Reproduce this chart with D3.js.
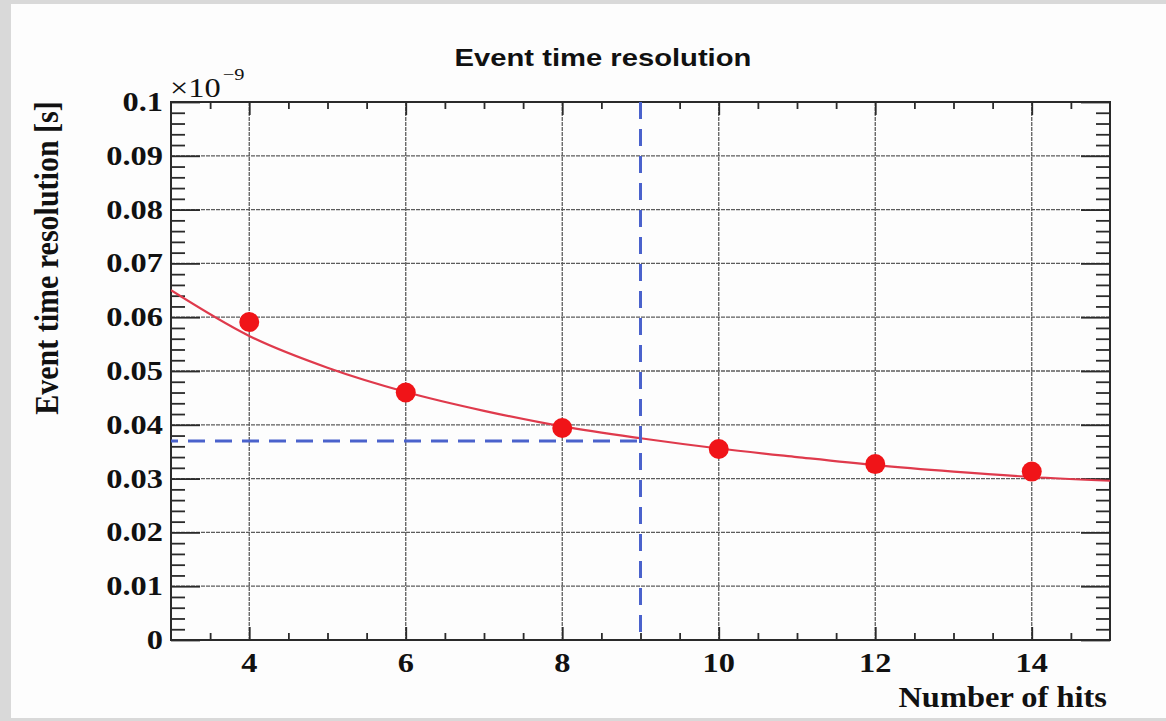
<!DOCTYPE html>
<html>
<head>
<meta charset="utf-8">
<script src="https://cdn.jsdelivr.net/npm/d3@7"></script>
<style>
html,body{margin:0;padding:0;background:#d9d9d9;}
svg{display:block;}
</style>
</head>
<body>
<svg id="chart" width="1166" height="721"></svg>
<script>
// measured event time resolution per number of hits (units of 1e-9 s)
var hits=[4,6,8,10,12,14];
var resolution=[0.0591,0.0460,0.0394,0.0355,0.0327,0.0313];

// fitted curve, sampled at each integer hit count
var fitHits=[3,4,5,6,7,8,9,10,11,12,13,14,15];
var fitRes=[0.0650,0.0565,0.0506,0.0461,0.0426,0.0397,0.0375,0.0356,0.0340,0.0325,0.0313,0.0303,0.0296];

// working point shown by the dashed guides
var markHits=9;
var markRes=0.037;

// axis ticks
var xTicks=[4,6,8,10,12,14];
var xTickLabels=["4","6","8","10","12","14"];
var yTicks=[0,0.01,0.02,0.03,0.04,0.05,0.06,0.07,0.08,0.09,0.1];
var yTickLabels=["0","0.01","0.02","0.03","0.04","0.05","0.06","0.07","0.08","0.09","0.1"];

var svg=d3.select("#chart");

// white canvas inside the grey border
svg.append("rect")
    .attr("x",11).attr("y",4)
    .attr("width",1155).attr("height",714)
    .attr("fill","#fdfdfd");

var frame={left:171, right:1110, top:102, bottom:640};

var xScale=d3.scaleLinear().domain([3,15]).range([frame.left,frame.right]);
var yScale=d3.scaleLinear().domain([0,0.1]).range([frame.bottom,frame.top]);

// grid
var grid=svg.append("g")
    .attr("stroke","#5c5c5c")
    .attr("stroke-width",1.3)
    .attr("stroke-dasharray","4,1");

grid.selectAll(".vgrid")
    .data(xTicks)
    .enter()
    .append("line")
    .attr("x1",d=>xScale(d)).attr("x2",d=>xScale(d))
    .attr("y1",frame.top).attr("y2",frame.bottom);

grid.selectAll(".hgrid")
    .data(yTicks.filter(d=>d>0 && d<0.1))
    .enter()
    .append("line")
    .attr("x1",frame.left).attr("x2",frame.right)
    .attr("y1",d=>yScale(d)).attr("y2",d=>yScale(d));

// tick marks on all four sides, pointing inward
var xMinor=d3.range(7,30).map(i=>i/2).filter(v=>xTicks.indexOf(v)<0);
var yMinor=d3.range(1,50).filter(i=>i%5!==0).map(i=>i/500);

function noDomain(g){
    g.select(".domain").remove();
    g.selectAll(".tick line").attr("stroke","#2a2a2a").attr("stroke-width",1.8);
}

svg.append("g").attr("transform","translate(0,"+frame.bottom+")")
    .call(d3.axisBottom(xScale).tickValues(xTicks).tickSize(-13).tickFormat("")).call(noDomain);
svg.append("g").attr("transform","translate(0,"+frame.bottom+")")
    .call(d3.axisBottom(xScale).tickValues(xMinor).tickSize(-7).tickFormat("")).call(noDomain);
svg.append("g").attr("transform","translate(0,"+frame.top+")")
    .call(d3.axisTop(xScale).tickValues(xTicks).tickSize(-13).tickFormat("")).call(noDomain);
svg.append("g").attr("transform","translate(0,"+frame.top+")")
    .call(d3.axisTop(xScale).tickValues(xMinor).tickSize(-7).tickFormat("")).call(noDomain);

svg.append("g").attr("transform","translate("+frame.left+",0)")
    .call(d3.axisLeft(yScale).tickValues(yTicks).tickSize(-29).tickFormat("")).call(noDomain);
svg.append("g").attr("transform","translate("+frame.left+",0)")
    .call(d3.axisLeft(yScale).tickValues(yMinor).tickSize(-14).tickFormat("")).call(noDomain);
svg.append("g").attr("transform","translate("+frame.right+",0)")
    .call(d3.axisRight(yScale).tickValues(yTicks).tickSize(-29).tickFormat("")).call(noDomain);
svg.append("g").attr("transform","translate("+frame.right+",0)")
    .call(d3.axisRight(yScale).tickValues(yMinor).tickSize(-14).tickFormat("")).call(noDomain);

// frame
svg.append("rect")
    .attr("x",frame.left).attr("y",frame.top)
    .attr("width",frame.right-frame.left).attr("height",frame.bottom-frame.top)
    .attr("fill","none")
    .attr("stroke","#2a2a2a")
    .attr("stroke-width",2);

// fit curve
svg.append("clipPath").attr("id","plotclip")
    .append("rect")
    .attr("x",frame.left).attr("y",frame.top)
    .attr("width",frame.right-frame.left).attr("height",frame.bottom-frame.top);

var fitLine=d3.line()
    .x((d,i)=>xScale(fitHits[i]))
    .y(d=>yScale(d))
    .curve(d3.curveMonotoneX);

svg.append("path")
    .datum(fitRes)
    .attr("clip-path","url(#plotclip)")
    .attr("d",fitLine)
    .attr("fill","none")
    .attr("stroke","#df3a4c")
    .attr("stroke-width",2.2);

// measured points
svg.selectAll(".pt")
    .data(resolution)
    .enter()
    .append("circle")
    .attr("cx",(d,i)=>xScale(hits[i]))
    .attr("cy",d=>yScale(d))
    .attr("r",10)
    .attr("fill","#f01418");

// dashed guides to the working point
svg.append("line")
    .attr("x1",xScale(markHits)).attr("x2",xScale(markHits))
    .attr("y1",yScale(0.1)).attr("y2",yScale(0))
    .attr("stroke","#4a62cc")
    .attr("stroke-width",3)
    .attr("stroke-dasharray","17,10");

svg.append("line")
    .attr("x1",xScale(3)).attr("x2",xScale(markHits))
    .attr("y1",yScale(markRes)).attr("y2",yScale(markRes))
    .attr("stroke","#4a62cc")
    .attr("stroke-width",3)
    .attr("stroke-dasharray","17,10")
    .attr("stroke-dashoffset",-17);

// tick labels
var serif="'Liberation Serif','Times New Roman',serif";

svg.selectAll(".ylab")
    .data(yTicks)
    .enter()
    .append("text")
    .attr("transform",d=>"translate(163,"+(yScale(d)+9)+") scale(1.2,1)")
    .attr("text-anchor","end")
    .attr("font-family",serif)
    .attr("font-weight","bold")
    .attr("font-size","27px")
    .attr("fill","#111")
    .text((d,i)=>yTickLabels[i]);

svg.selectAll(".xlab")
    .data(xTicks)
    .enter()
    .append("text")
    .attr("transform",d=>"translate("+xScale(d)+",672) scale(1.2,1)")
    .attr("text-anchor","middle")
    .attr("font-family",serif)
    .attr("font-weight","bold")
    .attr("font-size","27px")
    .attr("fill","#111")
    .text((d,i)=>xTickLabels[i]);

// exponent
var expo=svg.append("g").attr("transform","translate(170,97) scale(1.2,1)");
expo.append("text")
    .attr("font-family",serif)
    .attr("font-size","27px")
    .attr("fill","#111")
    .text("\u00d710");
expo.append("text")
    .attr("x",44).attr("y",-17)
    .attr("font-family",serif)
    .attr("font-size","17px")
    .attr("fill","#111")
    .text("\u22129");

// axis titles
svg.append("text")
    .attr("transform","translate(1107,707) scale(1.12,1)")
    .attr("text-anchor","end")
    .attr("font-family",serif)
    .attr("font-weight","bold")
    .attr("font-size","29px")
    .attr("fill","#111")
    .text("Number of hits");

svg.append("text")
    .attr("transform","translate(58,258) rotate(-90) scale(1,1.12)")
    .attr("text-anchor","middle")
    .attr("font-family",serif)
    .attr("font-weight","bold")
    .attr("font-size","30px")
    .attr("fill","#111")
    .text("Event time resolution [s]");

// title
svg.append("text")
    .attr("transform","translate(603,66) scale(1.27,1)")
    .attr("text-anchor","middle")
    .attr("font-family","'Liberation Sans',Arial,sans-serif")
    .attr("font-weight","bold")
    .attr("font-size","23px")
    .attr("fill","#111")
    .text("Event time resolution");
</script>
</body>
</html>
